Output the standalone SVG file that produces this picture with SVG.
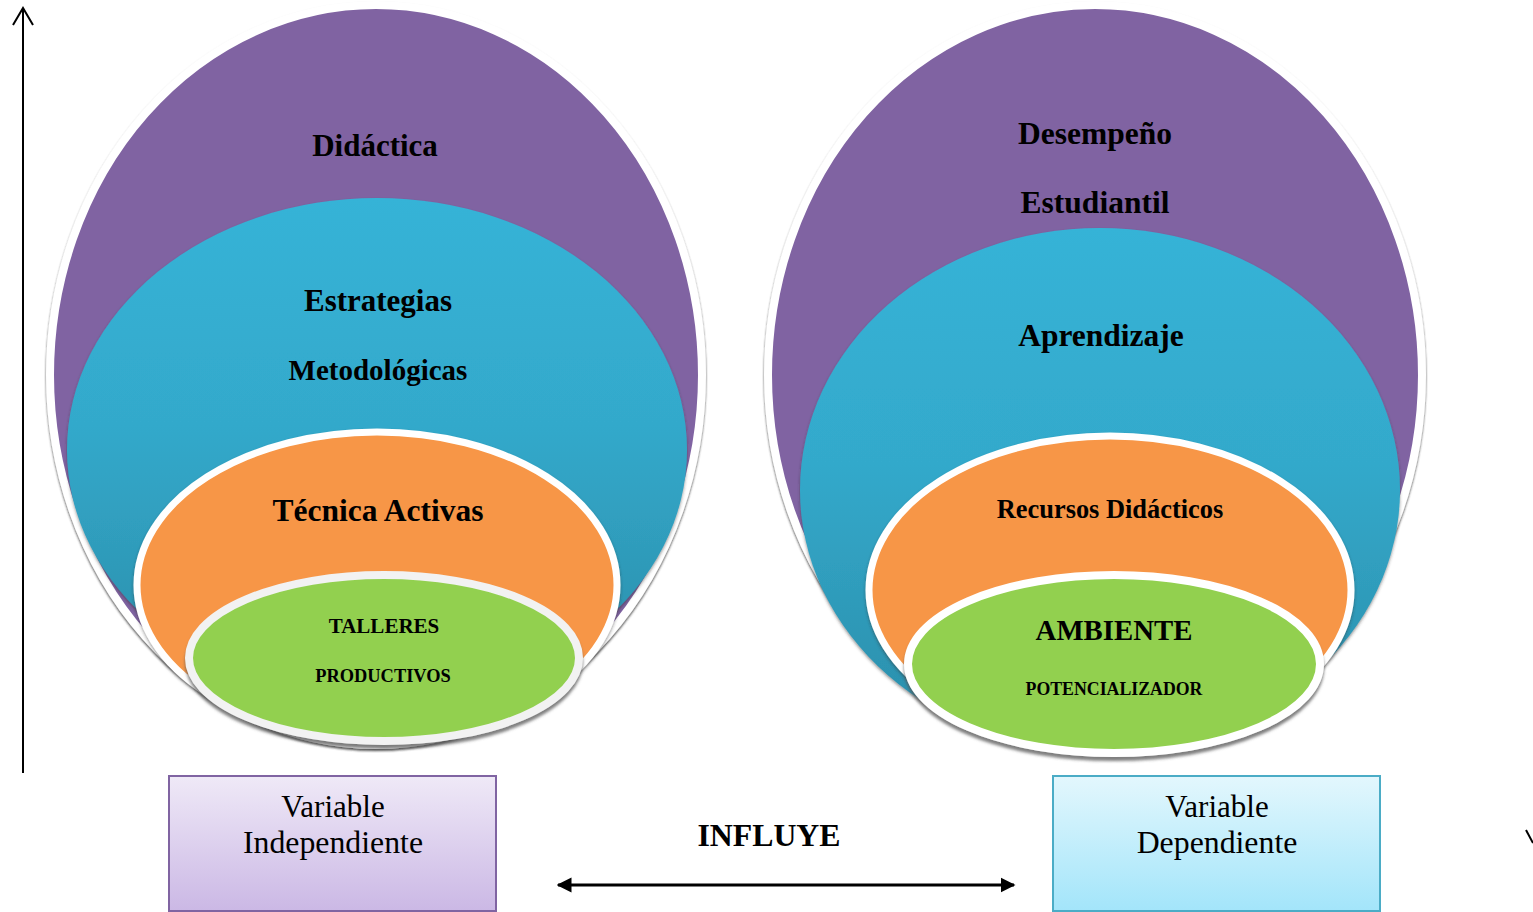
<svg xmlns="http://www.w3.org/2000/svg" width="1533" height="912" viewBox="0 0 1533 912">
<style>
.t{font-family:"Liberation Serif","Times New Roman",serif;font-weight:bold;fill:#000;text-anchor:middle}
.r{font-family:"Liberation Serif","Times New Roman",serif;fill:#000;text-anchor:middle}
.pur{fill:#8064A2;stroke:#fff;stroke-width:8;filter:url(#sh)}
.blu{fill:url(#gb);filter:url(#sh2)}
.org{fill:#F79646;stroke:#fff;stroke-width:7;filter:url(#sh2)}
.grn{fill:#92D050;stroke-width:8;filter:url(#sh3)}
.ln{stroke:#000;fill:none}
</style>
<defs>
<linearGradient id="gb" x1="0" y1="0" x2="0" y2="1">
<stop offset="0" stop-color="#36B3D7"/>
<stop offset="0.45" stop-color="#33A9CB"/>
<stop offset="1" stop-color="#2A8CA8"/>
</linearGradient>
<linearGradient id="gp" x1="0" y1="0" x2="0" y2="1">
<stop offset="0" stop-color="#EFE9F7"/>
<stop offset="1" stop-color="#CBB8E5"/>
</linearGradient>
<linearGradient id="gc" x1="0" y1="0" x2="0" y2="1">
<stop offset="0" stop-color="#E3F7FD"/>
<stop offset="1" stop-color="#A3E5FA"/>
</linearGradient>
<filter id="sh" x="-5%" y="-5%" width="110%" height="110%">
<feDropShadow dx="0" dy="2" stdDeviation="1.2" flood-color="#333" flood-opacity="0.8"/>
</filter>
<filter id="sh2" x="-5%" y="-5%" width="110%" height="110%">
<feDropShadow dx="0" dy="2" stdDeviation="1.5" flood-color="#333" flood-opacity="0.5"/>
</filter>
<filter id="sh3" x="-5%" y="-5%" width="110%" height="115%">
<feDropShadow dx="0" dy="4" stdDeviation="1.5" flood-color="#555" flood-opacity="0.75"/>
</filter>
<marker id="ah" viewBox="0 0 10 10" refX="9" refY="5" markerWidth="5" markerHeight="5.4" orient="auto-start-reverse" markerUnits="strokeWidth">
<path d="M0,0 L10,5 L0,10 z" fill="#000"/>
</marker>
</defs>

<g id="left-venn">
<g id="didactica">
<ellipse class="pur" cx="376" cy="375" rx="326" ry="370"/>
<text class="t" x="375" y="156" font-size="31">Didáctica</text>
</g>
<g id="estrategias">
<ellipse class="blu" cx="377" cy="450" rx="310" ry="252"/>
<text class="t" x="378" y="311" font-size="31">Estrategias</text>
<text class="t" x="378" y="380" font-size="29">Metodológicas</text>
</g>
<g id="tecnica">
<ellipse class="org" cx="377" cy="585" rx="240" ry="153"/>
<text class="t" x="378" y="521" font-size="31.5">Técnica Activas</text>
</g>
<g id="talleres">
<ellipse class="grn" stroke="#F2F2F2" cx="384" cy="658" rx="195" ry="83"/>
<text class="t" x="384" y="633" font-size="21">TALLERES</text>
<text class="t" x="383" y="682" font-size="18.4">PRODUCTIVOS</text>
</g>
</g>

<g id="right-venn">
<g id="desempeno">
<ellipse class="pur" cx="1095" cy="375" rx="327" ry="370"/>
<text class="t" x="1095" y="144" font-size="31.5">Desempeño</text>
<text class="t" x="1095" y="213" font-size="31.5">Estudiantil</text>
</g>
<g id="aprendizaje">
<ellipse class="blu" cx="1100" cy="490" rx="300" ry="262"/>
<text class="t" x="1101" y="346" font-size="31.5">Aprendizaje</text>
</g>
<g id="recursos">
<ellipse class="org" cx="1110" cy="590" rx="241" ry="154"/>
<text class="t" x="1110" y="518" font-size="26.4">Recursos Didácticos</text>
</g>
<g id="ambiente">
<ellipse class="grn" stroke="#fff" cx="1114" cy="664" rx="206" ry="89"/>
<text class="t" x="1114" y="640" font-size="28.8">AMBIENTE</text>
<text class="t" x="1114" y="695" font-size="17.8">POTENCIALIZADOR</text>
</g>
</g>

<g id="var-independiente">
<rect x="169" y="776" width="327" height="135" fill="url(#gp)" stroke="#8064A2" stroke-width="2"/>
<text class="r" x="333" y="817" font-size="31">Variable</text>
<text class="r" x="333" y="853" font-size="31.8">Independiente</text>
</g>
<g id="var-dependiente">
<rect x="1053" y="776" width="327" height="135" fill="url(#gc)" stroke="#4BACC6" stroke-width="2"/>
<text class="r" x="1217" y="817" font-size="31">Variable</text>
<text class="r" x="1217" y="853" font-size="31.8">Dependiente</text>
</g>
<g id="influye">
<text class="t" x="769" y="846" font-size="31.8">INFLUYE</text>
</g>

<g id="connectors">
<line class="ln" x1="558" y1="885" x2="1014" y2="885" stroke-width="3" marker-start="url(#ah)" marker-end="url(#ah)"/>
<line class="ln" x1="23" y1="773" x2="23" y2="9" stroke-width="2"/>
<polyline class="ln" points="13,25 23,8 33,25" stroke-width="2"/>
<line class="ln" x1="1526" y1="830" x2="1533" y2="843" stroke-width="2"/>
</g>
</svg>
